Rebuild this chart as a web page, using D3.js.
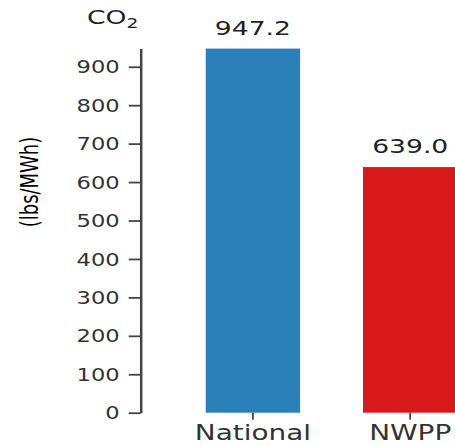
<!DOCTYPE html>
<html>
<head>
<meta charset="utf-8">
<script src="https://cdn.jsdelivr.net/npm/d3@7"></script>
<style>
  html, body { margin: 0; padding: 0; background: #fff; }
  svg { display: block; }
  text { font-family: "DejaVu Sans", Verdana, sans-serif; }
</style>
</head>
<body>
<svg id="chart" width="455" height="446"></svg>
<script>
// Emission rates (CO2, lbs/MWh)
const regions = ["National", "NWPP"];
const rates = [947.2, 639.0];
const barColors = ["#2b80b9", "#d7191c"];
const yTicks = [0, 100, 200, 300, 400, 500, 600, 700, 800, 900];

// text is drawn wide, as in the original layout
const sx = 1.33;

const svg = d3.select("#chart");

const y = d3.scaleLinear().domain([0, d3.max(rates)]).range([412.7, 48.6]);
const x = d3.scaleBand().domain(regions).range([142.8, 520.3])
  .paddingInner(0.4).paddingOuter(0.4);

// bars
svg.append("g").selectAll("rect")
  .data(regions)
  .join("rect")
  .attr("x", d => x(d))
  .attr("y", (d, i) => y(rates[i]))
  .attr("width", x.bandwidth())
  .attr("height", (d, i) => y(0) - y(rates[i]))
  .attr("fill", (d, i) => barColors[i]);

// value labels
svg.append("g").selectAll("text")
  .data(regions)
  .join("text")
  .attr("transform", (d, i) => `translate(${x(d) + x.bandwidth() / 2},${y(rates[i]) - 14}) scale(${sx},1)`)
  .attr("text-anchor", "middle")
  .attr("font-size", 20)
  .attr("fill", "#222")
  .text((d, i) => rates[i].toFixed(1));

// y axis
const yAxis = svg.append("g")
  .attr("transform", "translate(140.7,0)")
  .call(d3.axisLeft(y).tickValues(yTicks).tickSize(12).tickSizeOuter(0));
yAxis.select(".domain").attr("stroke", "#444").attr("stroke-width", 2.5);
yAxis.selectAll(".tick line").attr("stroke", "#444").attr("stroke-width", 1.8);
yAxis.selectAll(".tick text")
  .attr("x", -21 / sx)
  .attr("dy", "0.36em")
  .attr("transform", `scale(${sx},1)`)
  .attr("font-size", 17)
  .attr("font-family", "DejaVu Sans, sans-serif")
  .attr("fill", "#333");

// x axis (ticks only)
const xAxis = svg.append("g")
  .attr("transform", `translate(0,${y(0)})`)
  .call(d3.axisBottom(x).tickSize(7).tickSizeOuter(0));
xAxis.select(".domain").remove();
xAxis.selectAll(".tick line").attr("stroke", "#444").attr("stroke-width", 1.8);
xAxis.selectAll(".tick text")
  .attr("y", 27.5)
  .attr("dy", 0)
  .attr("transform", `scale(${sx},1)`)
  .attr("font-size", 21)
  .attr("font-family", "DejaVu Sans, sans-serif")
  .attr("fill", "#333");

// unit title
const title = svg.append("text")
  .attr("transform", `translate(87,24) scale(${sx},1)`)
  .attr("font-size", 20)
  .attr("fill", "#222");
title.append("tspan").text("CO");
title.append("tspan").attr("font-size", 14).attr("dy", 4).text("2");

// y axis label
svg.append("text")
  .attr("transform", `translate(30,182) scale(${sx},1) rotate(-90)`)
  .attr("text-anchor", "middle")
  .attr("dy", "0.35em")
  .attr("font-size", 18)
  .attr("fill", "#000")
  .text("(lbs/MWh)");
</script>
</body>
</html>
